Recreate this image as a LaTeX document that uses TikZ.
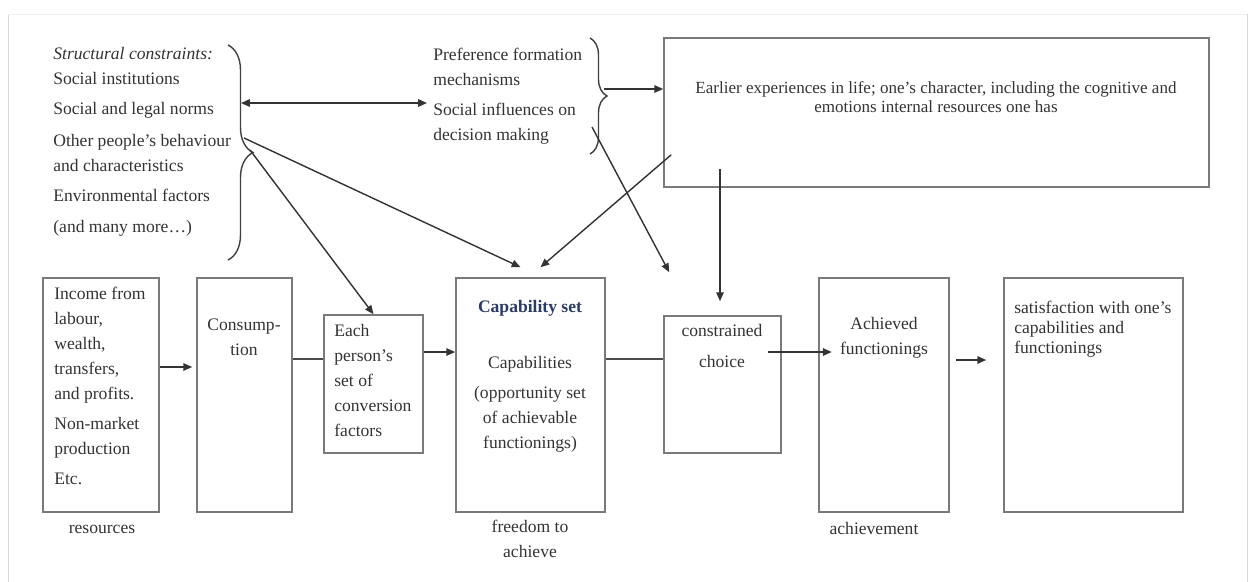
\documentclass[tikz,border=0pt]{standalone}
\usepackage{fontspec}
\setmainfont{Liberation Serif}
\usetikzlibrary{arrows.meta, positioning, calc, fit, decorations.pathreplacing}
\definecolor{txtgray}{HTML}{333333}
\definecolor{boxgray}{HTML}{7A7A7A}
\definecolor{capblue}{HTML}{2B3A67}
\tikzset{
  >={Triangle[length=5pt,width=4.2pt]},
  box/.style={draw=boxgray, line width=0.9pt, inner sep=0pt},
  txt/.style={text=txtgray, inner sep=0pt, font=\fontsize{10}{14.2}\selectfont},
  arr/.style={->, line width=0.8pt, draw=black!80},
  dbl/.style={<->, line width=0.8pt, draw=black!80},
  link/.style={line width=0.8pt, draw=black!70},
  brc/.style={decorate, decoration={brace, amplitude=#1}, line width=0.8pt, draw=black!75},
}

\begin{document}
\begin{tikzpicture}[x=0.02cm, y=-0.02cm]
	\useasboundingbox (0,0) rectangle (1249,582);
	% frame of the page
	\draw[black!15] (8,582) -- (8,14);
	\draw[black!15] (1247,14) -- (1247,582);
	\draw[black!6] (8,14) -- (1247,14);

	% upper part
	\node[txt, anchor=north west, align=left] (strc) at (53,47) {\textit{Structural constraints:}\\ Social institutions\\[2.8pt] Social and legal norms\\[4pt] Other people's behaviour\\ and characteristics\\[2.8pt] Environmental factors\\[3.4pt] (and many more\ldots)};
	\draw[brc=0.5cm] (228,45) -- (228,260);
	\node[txt, anchor=north west, align=left] (pref) at (433,48) {Preference formation\\ mechanisms\\[2.8pt] Social influences on\\ decision making};
	\draw[brc=0.34cm] (590,38) -- (590,154);
	\node[box, fit={(664,38) (1209,187)}] (earlier) {};
	\node[txt, anchor=north, align=center, font=\fontsize{9.7}{10.8}\selectfont] (earliertxt) at (936,81) {Earlier experiences in life; one's character, including the cognitive and\\ emotions internal resources one has};

	\coordinate (strcUp) at (241,103);
	\coordinate (prefLeft) at (427,103);
	\coordinate (strcTip) at (244,138);
	\coordinate (strcLow) at (250,150);
	\coordinate (prefTip) at (604,89);
	\coordinate (prefLow) at (592,127);

	% lower row
	\node[box, fit={(43,278) (159,512)}] (income) {};
	\node[txt, anchor=north west, align=left] (incometxt) at (54,287) {Income from\\ labour,\\ wealth,\\ transfers,\\ and profits.\\[2.8pt] Non-market\\ production\\[2.8pt] Etc.};
	\node[box, fit={(197,278) (292,512)}] (consump) {};
	\node[txt, anchor=north, align=center] (consumptxt) at (244,319) {Consump-\\ tion};
	\node[box, fit={(324,315) (423,453)}] (each) {};
	\node[txt, anchor=north west, align=left] (eachtxt) at (334,324) {Each\\ person's\\ set of\\ conversion\\ factors};
	\node[box, fit={(456,278) (605,512)}] (cap) {};
	\node[txt, anchor=north, align=center] (captxt) at (530,300) {\textbf{\textcolor{capblue}{Capability set}}\\[17.6pt] Capabilities\\[2.8pt] (opportunity set\\ of achievable\\ functionings)};
	\node[box, fit={(664,316) (781,453)}] (choice) {};
	\node[txt, anchor=north, align=center] (choicetxt) at (722,324) {constrained\\[3.4pt] choice};
	\node[box, fit={(819,278) (949,512)}] (ach) {};
	\node[txt, anchor=north, align=center] (achtxt) at (884,317) {Achieved\\ functionings};
	\node[box, fit={(1004,278) (1183,512)}] (sat) {};
	\node[txt, anchor=north west, align=left, font=\fontsize{10}{11.4}\selectfont] (sattxt) at (1014,301) {satisfaction with one's\\ capabilities and\\ functionings};

	\node[txt] (reslbl) at (102,529) {resources};
	\node[txt, anchor=north, align=center] (freelbl) at (530,520) {freedom to\\ achieve};
	\node[txt] (achlbl) at (874,528) {achievement};

	% levels of the horizontal connectors
	\coordinate (lvA) at (0,367);
	\coordinate (lvB) at (0,359);
	\coordinate (lvC) at (0,352);
	\coordinate (lvD) at (0,360);

	\draw[arr, shorten >=0.08cm] (income.east |- lvA) -- (consump.west |- lvA);
	\draw[link] (consump.east |- lvB) -- (each.west |- lvB);
	\draw[arr] (each.east |- lvC) -- (cap.west |- lvC);
	\draw[link] (cap.east |- lvB) -- (choice.west |- lvB);
	\draw[arr, shorten <=0.1cm, shorten >=0.16cm] (choicetxt.east |- lvC) -- (achtxt.west |- lvC);
	\draw[arr, shorten <=0.12cm, shorten >=0.34cm] (ach.east |- lvD) -- (sat.west |- lvD);

	% upper connectors
	\draw[dbl] (strcUp) -- (prefLeft);
	\draw[arr] (prefTip) -- (earlier.west |- prefTip);
	\draw[arr] (strcTip) -- ($(cap.north)+(-10,-10)$);
	\draw[arr] (strcLow) -- (each.north);
	\draw[arr] ($(earlier.south west)+(8,-33)$) -- ($(cap.north)+(10,-10)$);
	\draw[arr] (prefLow) -- ($(choice.north west)+(6,-43)$);
	\draw[arr] ($(choice.north)+(-2.5,-146)$) -- ($(choice.north)+(-2.5,-14)$);
\end{tikzpicture}
\end{document}
